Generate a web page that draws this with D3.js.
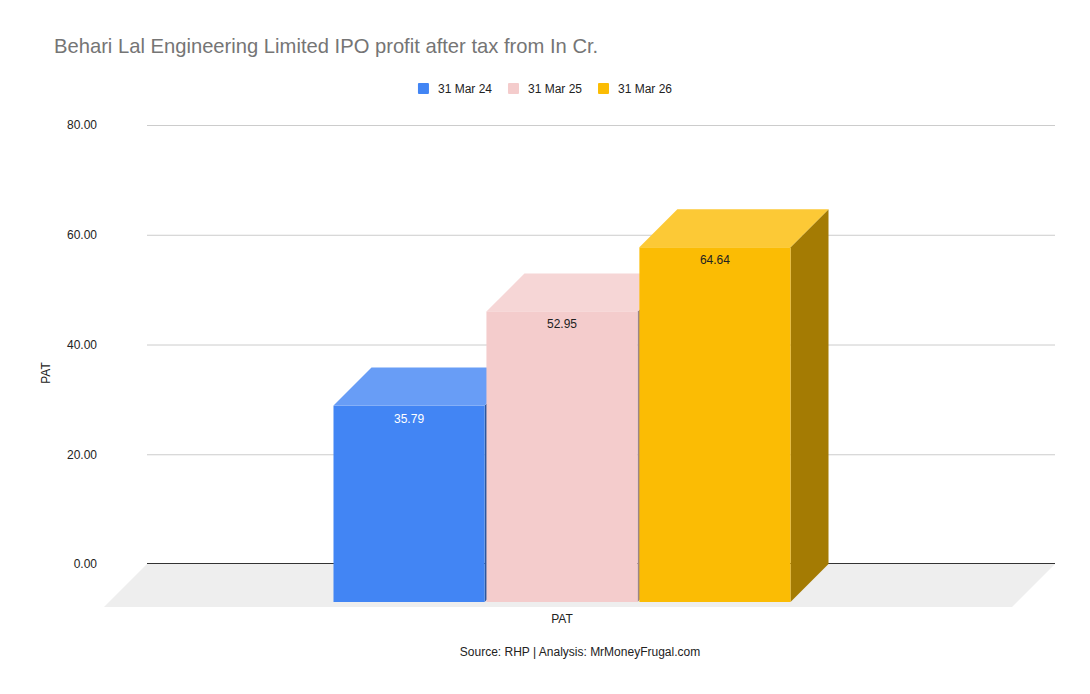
<!DOCTYPE html>
<html>
<head>
<meta charset="utf-8">
<script src="https://cdnjs.cloudflare.com/ajax/libs/d3/7.8.5/d3.min.js"></script>
<style>
  body { margin: 0; background: #fff; }
  svg { display: block; font-family: Arial, "Liberation Sans", sans-serif; }
</style>
</head>
<body>
<svg id="chart" width="1090" height="694"></svg>
<script>
const categories = ["PAT"];
const seriesNames = ["31 Mar 24", "31 Mar 25", "31 Mar 26"];
const patValues = [35.79, 52.95, 64.64];
const seriesColors = ["#4285f4", "#f4cccc", "#fbbc04"];
const yTicks = [0, 20, 40, 60, 80];

const width = 1090;
const height = 694;
const margin = { top: 125, right: 35, bottom: 130, left: 147 };
const innerWidth = width - margin.left - margin.right;
const innerHeight = height - margin.top - margin.bottom;
const depth = 38;
const floorDepth = 43;

const svg = d3.select("#chart");

const data = seriesNames.map((name, i) => ({ name, value: patValues[i], color: seriesColors[i] }));

const yScale = d3.scaleLinear().domain([0, 80]).range([innerHeight, 0]);
const xScale = d3.scaleBand().domain(categories).range([0, innerWidth]).paddingOuter(0.4934);
const xSub = d3.scaleBand().domain(seriesNames).range([0, xScale.bandwidth()]).paddingInner(0.012);

const g = svg.append("g").attr("transform", `translate(${margin.left}, ${margin.top})`);

// title
svg.append("text")
  .attr("x", 54).attr("y", 53)
  .attr("font-size", 20.2).attr("fill", "#757575")
  .text("Behari Lal Engineering Limited IPO profit after tax from In Cr.");

// legend
const legend = svg.append("g");
let lx = 0;
data.forEach((d) => {
  const item = legend.append("g").attr("transform", `translate(${lx}, 0)`);
  item.append("rect").attr("x", 0).attr("y", 83).attr("width", 11).attr("height", 11).attr("rx", 1).attr("fill", d.color);
  const t = item.append("text").attr("x", 20).attr("y", 93).attr("font-size", 12).attr("fill", "#222").text(d.name);
  lx += 20 + t.node().getComputedTextLength() + 16;
});
const legendW = lx - 16;
legend.attr("transform", `translate(${545 - legendW / 2}, 0)`);

// gridlines
g.append("g")
  .call(d3.axisLeft(yScale).tickValues(yTicks.slice(1)).tickSize(-innerWidth).tickFormat(""))
  .call((s) => s.select(".domain").remove())
  .call((s) => s.selectAll(".tick text").remove())
  .call((s) => s.selectAll(".tick line").attr("stroke", "#cccccc"));

// y labels
g.append("g")
  .call(d3.axisLeft(yScale).tickValues(yTicks).tickSize(0).tickPadding(50).tickFormat(d3.format(".2f")))
  .call((s) => s.select(".domain").remove())
  .call((s) => s.selectAll(".tick text").attr("font-size", 12).attr("fill", "#222").attr("font-family", "Arial, 'Liberation Sans', sans-serif"));

// floor
const y0 = yScale(0);
g.append("path")
  .attr("d", `M0,${y0} L${innerWidth},${y0} L${innerWidth - floorDepth},${y0 + floorDepth} L${-floorDepth},${y0 + floorDepth} Z`)
  .attr("fill", "#eeeeee");

// baseline
g.append("line")
  .attr("x1", 0).attr("x2", innerWidth)
  .attr("y1", y0 - 0.5).attr("y2", y0 - 0.5)
  .attr("stroke", "#333").attr("stroke-width", 1);

// bars
const bars = g.append("g").attr("transform", `translate(${xScale("PAT") - 1}, 0)`);
data.forEach((d) => {
  const xb = xSub(d.name);
  const w = xSub.bandwidth();
  const yt = yScale(d.value);
  const base = d3.color(d.color);
  const xf = xb - depth;
  const ytf = yt + depth;
  const ybf = y0 + depth;
  // side
  bars.append("path")
    .attr("d", `M${xf + w},${ytf} L${xb + w},${yt} L${xb + w},${y0} L${xf + w},${ybf} Z`)
    .attr("fill", base.darker(1.2));
  // top
  bars.append("path")
    .attr("d", `M${xf},${ytf} L${xb},${yt} L${xb + w},${yt} L${xf + w},${ytf} Z`)
    .attr("fill", d3.interpolateRgb(d.color, "#ffffff")(0.2));
  // front
  bars.append("rect")
    .attr("x", xf).attr("y", ytf)
    .attr("width", w).attr("height", ybf - ytf)
    .attr("fill", d.color);
});

// value labels
data.forEach((d, i) => {
  bars.append("text")
    .attr("x", xSub(d.name) - depth + xSub.bandwidth() / 2)
    .attr("y", yScale(d.value) + depth + 17)
    .attr("text-anchor", "middle")
    .attr("font-size", 12)
    .attr("fill", i === 0 ? "#ffffff" : "#222")
    .text(d3.format(".2f")(d.value));
});

// x label
g.append("text")
  .attr("x", xScale("PAT") + xScale.bandwidth() / 2 - depth - 1)
  .attr("y", 623 - margin.top)
  .attr("text-anchor", "middle")
  .attr("font-size", 12).attr("fill", "#222")
  .text("PAT");

// y title
svg.append("text")
  .attr("transform", "translate(50, 373) rotate(-90)")
  .attr("text-anchor", "middle")
  .attr("font-size", 12).attr("fill", "#222")
  .text("PAT");

// source
svg.append("text")
  .attr("x", 580).attr("y", 656)
  .attr("text-anchor", "middle")
  .attr("font-size", 12).attr("fill", "#222")
  .text("Source: RHP | Analysis: MrMoneyFrugal.com");
</script>
</body>
</html>
